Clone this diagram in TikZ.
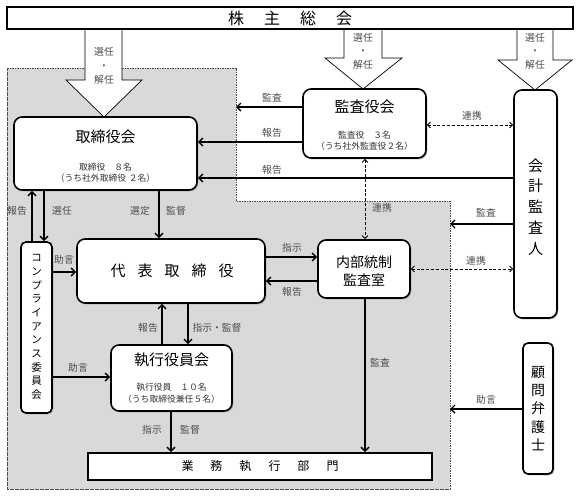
\documentclass[tikz,border=0pt]{standalone}
\usepackage{fontspec}
\setmainfont{Noto Sans CJK JP}
\usetikzlibrary{arrows.meta,shadows,calc}
\begin{document}
\begin{tikzpicture}[x=1pt,y=-1pt,
  shad/.style={drop shadow={shadow xshift=1.3pt,shadow yshift=-1.3pt,fill=black!50,opacity=.55}},
  box/.style={draw,line width=1.6pt,rounded corners=8pt,fill=white,shad,inner sep=0pt},
  sbox/.style={draw,line width=1.6pt,rounded corners=5pt,fill=white,shad,inner sep=0pt},
  bar/.style={draw,line width=1.6pt,fill=white,shad,inner sep=0pt},
  arr/.style={line width=1.4pt,-{Straight Barb[length=4pt,width=8pt,line width=1.4pt]}},
  darr/.style={line width=0.9pt,dash pattern=on 3pt off 1.8pt,{Straight Barb[length=3pt,width=6pt,line width=0.9pt]}-{Straight Barb[length=3pt,width=6pt,line width=0.9pt]}},
  lbl/.style={font=\fontsize{9.8}{11}\selectfont,text=black!70,inner sep=0pt},
  sub/.style={font=\fontsize{8.8}{11.5}\selectfont,text=black!80,align=center,inner sep=0pt},
  ttl/.style={font=\fontsize{15}{15}\selectfont,inner sep=0pt},
  bigarr/.style={draw,line width=0.7pt,fill=white},
  vtext/.style={align=center,inner sep=0pt},
]
\useasboundingbox (0,0) rectangle (580,496);

% gray region
\path[fill=black!15,draw=black!70,line width=0.8pt,dash pattern=on 1.6pt off 0.9pt]
  (7,68) -- (236,68) -- (236,201) -- (450,201) -- (450,489) -- (7,489) -- cycle;

% big arrows
\path[bigarr] (85,29) -- (85,80) -- (66,80) -- (104,117) -- (142,80) -- (122,80) -- (122,29) -- cycle;
\path[bigarr] (344,29) -- (344,58) -- (325,58) -- (363,89) -- (402,58) -- (382,58) -- (382,29) -- cycle;
\path[bigarr] (517,29) -- (517,60) -- (498,60) -- (535,90) -- (572,60) -- (553,60) -- (553,29) -- cycle;
\node[lbl,align=center,font=\fontsize{9.8}{13.8}\selectfont] (a1) at (104,66) {選任\\・\\解任};
\node[lbl,align=center,font=\fontsize{9.8}{13.5}\selectfont] (a2) at (363,51) {選任\\・\\解任};
\node[lbl,align=center,font=\fontsize{9.8}{13.5}\selectfont] (a3) at (535,51) {選任\\・\\解任};

% top bar
\node[bar,minimum width=566pt,minimum height=22pt,font=\fontsize{16}{16}\selectfont] (soukai) at (290,18)
  {株\hspace{20pt}主\hspace{20pt}総\hspace{20pt}会};

% boxes
\node[box,minimum width=183pt,minimum height=73pt] (tori) at (105.5,153.5) {};
\node[ttl] (toriT) at (105.5,137) {取締役会};
\node[sub] (toriS) at (105.5,172.5) {取締役\hspace{1em}８名\\（うち社外取締役\hspace{0.3em}２名）};

\node[box,minimum width=123pt,minimum height=69pt] (kansa) at (364.5,123.5) {};
\node[ttl] (kansaT) at (364.5,107) {監査役会};
\node[sub] (kansaS) at (364.5,140.5) {監査役\hspace{1em}３名\\（うち社外監査役２名）};

\node[box,minimum width=43pt,minimum height=228pt] (kaikei) at (535.5,204) {};
\node[vtext,font=\fontsize{15}{20.8}\selectfont] (kaikeiT) at (535.5,207) {会\\計\\監\\査\\人};

\node[box,minimum width=188pt,minimum height=64pt] (daihyo) at (171,271) {};
\node[ttl] (daihyoT) at (172,271) {代\hspace{12pt}表\hspace{12pt}取\hspace{12pt}締\hspace{12pt}役};

\node[box,minimum width=92pt,minimum height=58pt] (naibu) at (364,269) {};
\node[vtext,font=\fontsize{14}{18.5}\selectfont] (naibuT) at (364,271) {内部統制\\監査室};

\node[sbox,minimum width=31pt,minimum height=171pt] (comp) at (36.5,327.5) {};
\node[vtext,font=\fontsize{10.5}{13.7}\selectfont] (compT) at (36.5,327) {コ\\ン\\プ\\ラ\\イ\\ア\\ン\\ス\\委\\員\\会};

\node[box,minimum width=121pt,minimum height=66pt] (shikko) at (171.5,378) {};
\node[ttl] (shikkoT) at (171.5,360) {執行役員会};
\node[sub] (shikkoS) at (171.5,393) {執行役員\hspace{1em}１０名\\（うち取締役兼任５名）};

\node[sbox,minimum width=30pt,minimum height=131pt] (komon) at (538,408.5) {};
\node[vtext,font=\fontsize{14}{18.3}\selectfont] (komonT) at (538,408.5) {顧\\問\\弁\\護\\士};

\node[bar,minimum width=344pt,minimum height=27pt,font=\fontsize{12}{12}\selectfont] (gyomu) at (260,466.5)
  {業\hspace{17pt}務\hspace{17pt}執\hspace{17pt}行\hspace{17pt}部\hspace{17pt}門};

% connectors
\coordinate (gE1) at (236,107);
\coordinate (gE2) at (450,224);
\coordinate (gE3) at (450,409);
\draw[arr] (kansa.west |- gE1) -- (gE1);
\draw[arr] (kansa.west |- 0,142) -- (tori.east |- 0,142);
\draw[arr] (kaikei.west |- 0,178) -- (tori.east |- 0,178);
\draw[darr] (kansa.east |- 0,125) -- (kaikei.west |- 0,125);
\draw[darr] (kansa.south -| 365,0) -- (naibu.north -| 365,0);
\draw[arr] (kaikei.west |- gE2) -- (gE2);
\draw[darr] (naibu.east |- 0,269) -- (kaikei.west |- 0,269);
\draw[arr] (komon.west |- gE3) -- (gE3);
\draw[arr] (daihyo.east |- 0,257) -- (naibu.west |- 0,257);
\draw[arr] (naibu.west |- 0,281) -- (daihyo.east |- 0,281);
\draw[arr] (tori.south -| 159,0) -- (daihyo.north -| 159,0);
\draw[arr] (comp.north -| 32,0) -- (tori.south -| 32,0);
\draw[arr] (tori.south -| 44,0) -- (comp.north -| 44,0);
\draw[arr] (comp.east |- 0,272) -- (daihyo.west |- 0,272);
\draw[arr] (comp.east |- 0,377) -- (shikko.west |- 0,377);
\draw[arr] (shikko.north -| 162,0) -- (daihyo.south -| 162,0);
\draw[arr] (daihyo.south -| 188,0) -- (shikko.north -| 188,0);
\draw[arr] (shikko.south -| 171,0) -- (gyomu.north -| 171,0);
\draw[arr] (naibu.south -| 365,0) -- (gyomu.north -| 365,0);

% labels
\node[lbl] (l1) at (272,98) {監査};
\node[lbl] (l2) at (272,133) {報告};
\node[lbl] (l3) at (272,170) {報告};
\node[lbl] (l4) at (472,116) {連携};
\node[lbl] (l5) at (382,208) {連携};
\node[lbl] (l6) at (486,213) {監査};
\node[lbl] (l7) at (476,261) {連携};
\node[lbl] (l8) at (486,400) {助言};
\node[lbl] (l9) at (292,248) {指示};
\node[lbl] (l10) at (292,292) {報告};
\node[lbl] (l11) at (17,211) {報告};
\node[lbl] (l12) at (62,211) {選任};
\node[lbl] (l13) at (140,211) {選定};
\node[lbl] (l14) at (176,211) {監督};
\node[lbl] (l15) at (64,260) {助言};
\node[lbl] (l16) at (78,368) {助言};
\node[lbl] (l17) at (148,328) {報告};
\node[lbl] (l18) at (217,328) {指示・監督};
\node[lbl] (l19) at (152,430) {指示};
\node[lbl] (l20) at (190,430) {監督};
\node[lbl] (l21) at (380,363) {監査};
\end{tikzpicture}
\end{document}
